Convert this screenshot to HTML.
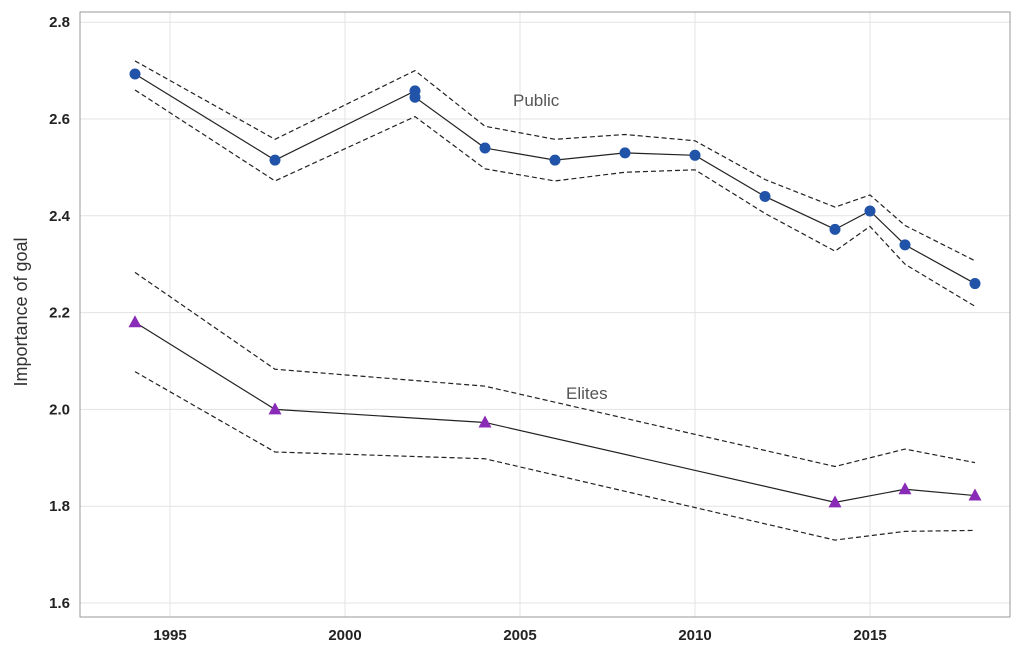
<!DOCTYPE html>
<html><head><meta charset="utf-8"><style>
body{margin:0;background:#fff;font-family:"Liberation Sans",sans-serif}
</style></head><body>
<svg id="c" width="1024" height="657" xmlns="http://www.w3.org/2000/svg"></svg>
<script>
const xTicks=[1995,2000,2005,2010,2015];
const yTicks=[1.6,1.8,2.0,2.2,2.4,2.6,2.8];
const pubYears=[1994,1998,2002,2002,2004,2006,2008,2010,2012,2014,2015,2016,2018];
const pubVals=[2.693,2.515,2.658,2.645,2.54,2.515,2.53,2.525,2.44,2.372,2.41,2.34,2.26];
const pubCIYears=[1994,1998,2002,2004,2006,2008,2010,2012,2014,2015,2016,2018];
const pubUpper=[2.72,2.558,2.70,2.585,2.558,2.568,2.555,2.475,2.418,2.443,2.38,2.307];
const pubLower=[2.66,2.472,2.605,2.497,2.472,2.49,2.495,2.405,2.327,2.378,2.30,2.213];
const eliteYears=[1994,1998,2004,2014,2016,2018];
const eliteVals=[2.18,2.0,1.973,1.808,1.835,1.822];
const eliteUpper=[2.283,2.083,2.048,1.882,1.918,1.89];
const eliteLower=[2.078,1.912,1.898,1.73,1.748,1.75];

const svg=document.getElementById('c');
const NS='http://www.w3.org/2000/svg';
const L=80,R=1010,T=12,B=617;
const xs=y=>170+(y-1995)*35;
const ys=v=>603-(v-1.6)/0.2*96.8;
function mk(tag,attrs,parent){const e=document.createElementNS(NS,tag);for(const k in attrs)e.setAttribute(k,attrs[k]);(parent||svg).appendChild(e);return e;}
const grid=mk('g',{});


xTicks.forEach(t=>{mk('line',{x1:xs(t),x2:xs(t),y1:T,y2:B,stroke:'#e3e3e3','stroke-width':1},grid);
 const tx=mk('text',{x:xs(t),y:640,'text-anchor':'middle','font-size':15,'font-weight':'bold',fill:'#222'});tx.textContent=t;
 
 });
yTicks.forEach(t=>{mk('line',{x1:L,x2:R,y1:ys(t),y2:ys(t),stroke:'#e3e3e3','stroke-width':1},grid);
 const tx=mk('text',{x:70,y:ys(t)+5,'text-anchor':'end','font-size':15,'font-weight':'bold',fill:'#222'});tx.textContent=t.toFixed(1);
 
 });
const frame=mk('rect',{x:L,y:T,width:R-L,height:B-T,fill:'none',stroke:'#999','stroke-width':1});


function line(years,vals,dash,name){const d=years.map((y,i)=>(i?'L':'M')+xs(y)+','+ys(vals[i])).join('');
 const p=mk('path',{d:d,fill:'none',stroke:'#222','stroke-width':1.2,'stroke-dasharray':dash||'none'});
 
 }
line(pubCIYears,pubUpper,'5,3','public-upper-ci');
line(pubCIYears,pubLower,'5,3','public-lower-ci');
line(pubYears,pubVals,null,'public-line');
line(eliteYears,eliteUpper,'5,3','elite-upper-ci');
line(eliteYears,eliteLower,'5,3','elite-lower-ci');
line(eliteYears,eliteVals,null,'elite-line');
pubYears.forEach((y,i)=>{const c=mk('circle',{cx:xs(y),cy:ys(pubVals[i]),r:5.5,fill:'#2154a8'});
 
 });
eliteYears.forEach((y,i)=>{const x=xs(y),v=ys(eliteVals[i]);
 const p=mk('polygon',{points:`${x},${v-7} ${x-6.5},${v+5} ${x+6.5},${v+5}`,fill:'#8a2bb8'});
 
 });
const t1=mk('text',{x:513,y:106,'font-size':17,fill:'#555'});t1.textContent='Public';


const t2=mk('text',{x:566,y:399,'font-size':17,fill:'#555'});t2.textContent='Elites';


const yt=mk('text',{x:0,y:0,'font-size':18,fill:'#333','text-anchor':'middle',transform:'translate(27,312) rotate(-90)'});yt.textContent='Importance of goal';


</script>
</body></html>
